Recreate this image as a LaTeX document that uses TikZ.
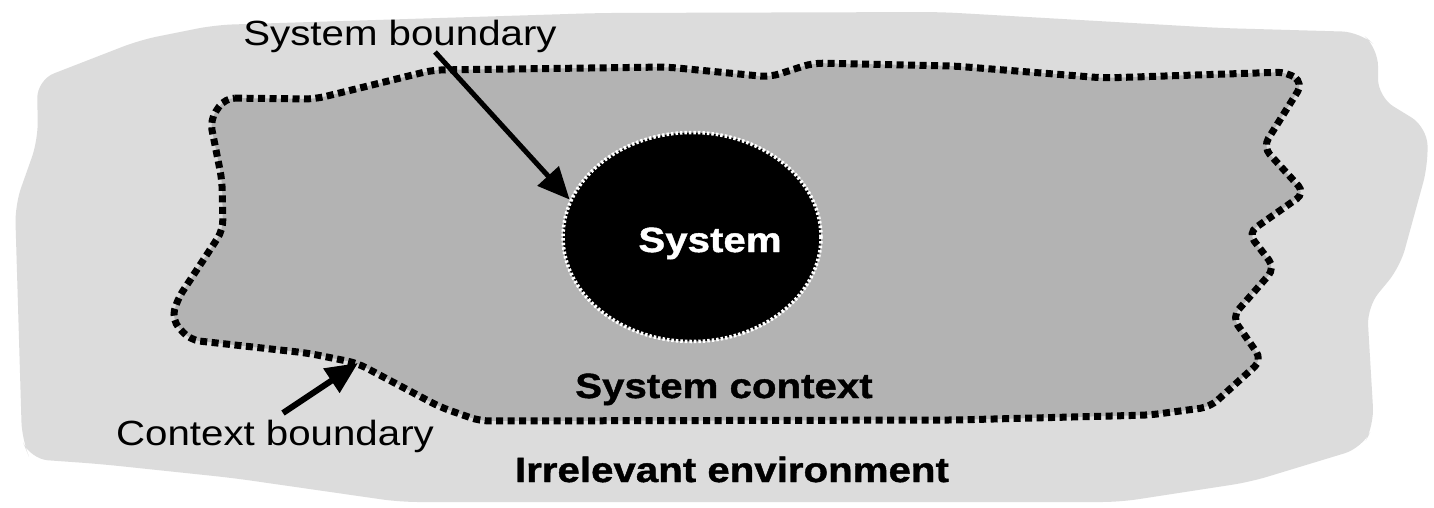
\documentclass[tikz,border=0pt]{standalone}
\usepackage{fontspec}
\newfontfamily\labfont[FakeStretch=1.15, BoldFeatures={FakeBold=1.2}]{Liberation Sans}
\usetikzlibrary{arrows.meta,shapes.geometric}
\definecolor{envgray}{HTML}{DCDCDC}
\definecolor{ctxgray}{HTML}{B3B3B3}
\tikzset{
  lab/.style={font=\labfont\fontsize{35}{40}\selectfont, inner sep=0pt, anchor=base},
  boldlab/.style={lab, font=\labfont\bfseries\fontsize{35}{40}\selectfont},
  ctxline/.style={draw=black, line width=7pt, dash pattern=on 7pt off 4.5pt, rounded corners=10pt},
  pointer/.style={line width=5pt, -{Triangle[length=32pt,width=28pt]}},
}
\begin{document}
\begin{tikzpicture}[x=1pt,y=-1pt]
\useasboundingbox[fill=white] (0,0) rectangle (1434,507);

% irrelevant environment (outer blob)
\fill[envgray, rounded corners=18pt]
  (37,80) -- (140,40) -- (215,25) -- (600,13) -- (940,12) -- (1220,28) -- (1360,32)
  -- (1378,48) -- (1378,97) -- (1427,127) -- (1428,165) -- (1400,267) -- (1367,307)
  -- (1374,425) -- (1362,448) -- (1250,482) -- (1120,502) -- (400,502) -- (233,478)
  -- (100,464) -- (30,459) -- (22,440) -- (15,205) -- (38,140) -- cycle;

% system context with its dotted boundary
\fill[ctxgray, rounded corners=10pt]
  (225,98) -- (315,99) -- (433,70) -- (667,67) -- (770,77) -- (813,63) -- (954,66)
  -- (1104,78) -- (1287,72) -- (1303,83) -- (1263,147) -- (1305,193) -- (1248,233)
  -- (1275,268) -- (1232,317) -- (1262,360) -- (1210,407) -- (1150,415) -- (954,420)
  -- (480,421) -- (440,407) -- (357,363) -- (307,353) -- (190,340) -- (172,320)
  -- (177,300) -- (223,230) -- (222,180) -- (210,120) -- cycle;
\draw[ctxline]
  (225,98) -- (315,99) -- (433,70) -- (667,67) -- (770,77) -- (813,63) -- (954,66)
  -- (1104,78) -- (1287,72) -- (1303,83) -- (1263,147) -- (1305,193) -- (1248,233)
  -- (1275,268) -- (1232,317) -- (1262,360) -- (1210,407) -- (1150,415) -- (954,420)
  -- (480,421) -- (440,407) -- (357,363) -- (307,353) -- (190,340) -- (172,320)
  -- (177,300) -- (223,230) -- (222,180) -- (210,120) -- cycle;

% the system
\node[ellipse, fill=black, draw=white, line width=3.5pt, dash pattern=on 2.5pt off 2pt,
      minimum width=258pt, minimum height=209pt, inner sep=0pt] (sys) at (692,237) {};
\node[boldlab, text=white] (systext) at (710,252) {System};

% labels
\node[lab] (sblabel) at (400,45) {System boundary};
\node[lab] (cblabel) at (275,445) {Context boundary};
\node[boldlab] (ctxlabel) at (724,398) {System context};
\node[boldlab] (envlabel) at (732,482) {Irrelevant environment};

% pointers
\coordinate (sbstart) at (435,52);
\coordinate (cbstart) at (283,413);
\coordinate (cbtip) at (358,363);
\draw[pointer] (sbstart) -- (sys.163);
\draw[pointer, line width=6pt] (cbstart) -- (cbtip);
\end{tikzpicture}
\end{document}
